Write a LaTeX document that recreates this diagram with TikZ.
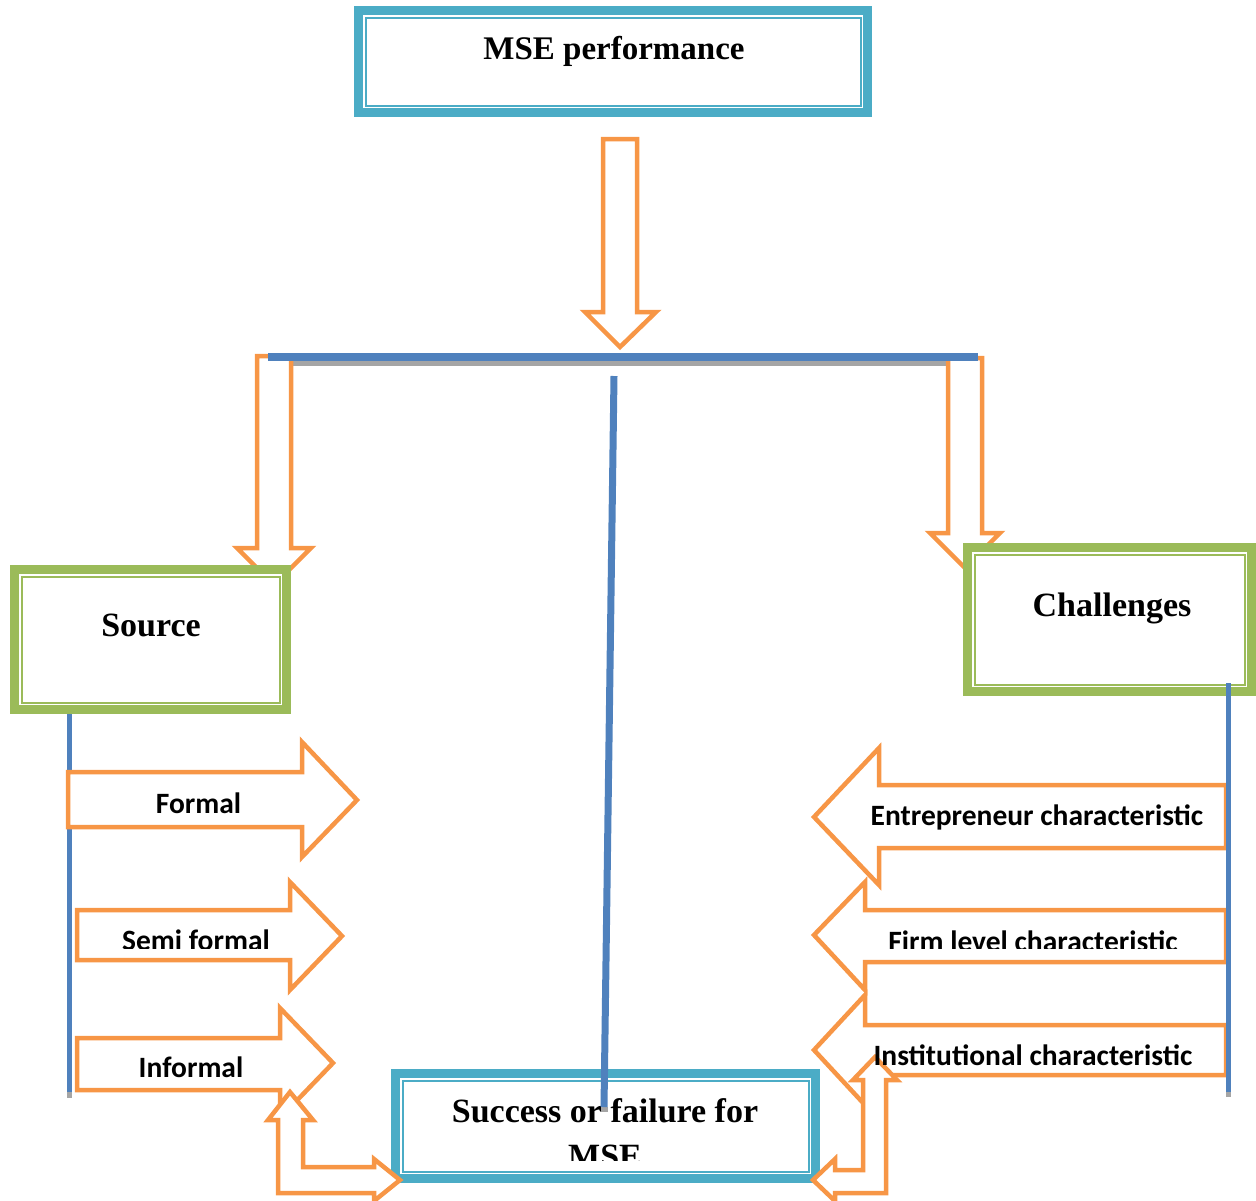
\documentclass[tikz,border=0pt]{standalone}
\usepackage{fontspec}
\setmainfont{Liberation Serif}
\newfontfamily\labfont{Carlito}
\definecolor{mteal}{HTML}{4BACC6}
\definecolor{mgreen}{HTML}{9BBB59}
\definecolor{morange}{HTML}{F79646}
\definecolor{mblue}{HTML}{4F81BD}
\definecolor{mgray}{HTML}{A5A5A5}
\begin{document}
\begin{tikzpicture}[x=1pt,y=-1pt,
  framebox/.style={draw=#1, line width=9pt, fill=white, inner sep=0pt,
    path picture={\draw[#1, line width=2pt]
      ([shift={(7pt,-7pt)}]path picture bounding box.north west) rectangle
      ([shift={(-7pt,7pt)}]path picture bounding box.south east);}},
  boxtext/.style={font=\fontsize{34}{40}\selectfont\bfseries, anchor=base, inner sep=0pt},
  arrowtext/.style={font=\labfont\fontsize{29.5}{34}\selectfont\bfseries, anchor=base, inner sep=0pt},
  blockarrow/.style={draw=morange, line width=4.5pt, fill=white, line join=miter},
  blueline/.style={draw=mblue, line width=#1},
  shadowline/.style={draw=mgray, line width=#1}]
\useasboundingbox (0,0) rectangle (1256,1200);

% top box
\node[framebox=mteal, minimum width=509pt, minimum height=102pt] (top) at (613,61.5) {};
\node[boxtext, font=\fontsize{33}{40}\selectfont\bfseries] (toptxt) at (614,59) {MSE performance};

% top down arrow
\draw[blockarrow] (603,139) -- (637,139) -- (637,312) -- (656,312) -- (620,347) -- (585,312) -- (603,312) -- cycle;

% horizontal bar shadow
\coordinate (barL) at (268,357);
\coordinate (barR) at (978,357);
\draw[shadowline=5pt] ([yshift=-6.5pt]barL) -- ([yshift=-6.5pt]barR);

% left and right down arrows
\draw[blockarrow] (257,356) -- (291,356) -- (291,548) -- (311,548) -- (274,585) -- (237,548) -- (257,548) -- cycle;
\draw[blockarrow] (948,358) -- (982,358) -- (982,533) -- (1000,533) -- (965,568) -- (930,533) -- (948,533) -- cycle;

% blue bar
\draw[blueline=8pt] (barL) -- (barR);

% source and challenges boxes
\node[framebox=mgreen, minimum width=272pt, minimum height=140pt] (src) at (150.5,639.5) {};
\node[boxtext] (srctxt) at (151,636) {Source};
\node[framebox=mgreen, minimum width=284pt, minimum height=144pt] (chal) at (1109.5,619.5) {};
\node[boxtext] (chaltxt) at (1112,616) {Challenges};

% left vertical line
\coordinate (lb) at (69,1092);
\draw[shadowline=5pt] (lb) -- ++(0,6);
\draw[blueline=5pt] (src.south -| lb) -- (lb);

% left arrows
\draw[blockarrow] (68,772) -- (302,772) -- (302,742) -- (357,800) -- (302,857) -- (302,827) -- (68,827) -- cycle;
\draw[blockarrow] (77,910) -- (290,910) -- (290,882) -- (342,936) -- (290,990) -- (290,960) -- (77,960) -- cycle;
\draw[blockarrow] (77,1038) -- (280,1038) -- (280,1008) -- (333,1063) -- (280,1118) -- (280,1090) -- (77,1090) -- cycle;

% right arrows
\draw[blockarrow] (1226,785) -- (879,785) -- (879,748) -- (814,817) -- (879,885) -- (879,848) -- (1226,848) -- cycle;
\draw[blockarrow] (1226,910) -- (865,910) -- (865,882) -- (814,935) -- (865,990) -- (865,962) -- (1226,962) -- cycle;
\draw[blockarrow] (1226,1025) -- (865,1025) -- (865,995) -- (814,1050) -- (865,1105) -- (865,1075) -- (1226,1075) -- cycle;

% right vertical line
\coordinate (rb) at (1228,1092);
\coordinate (rt) at (1228,683);
\draw[shadowline=5pt] (rb) -- ++(0,5);
\draw[blueline=5pt] (rt) -- (rb);

% success box
\node[framebox=mteal, minimum width=420pt, minimum height=105pt] (succ) at (605.5,1126) {};
\node[boxtext] (succtxt) at (605,1122) {Success or failure for};
\begin{scope}
  \clip (396,1074) rectangle (815,1160);
  \node[boxtext] (succtxt2) at (605,1167) {MSE};
\end{scope}

% bent double arrows
\draw[blockarrow] (290,1092) -- (313,1120) -- (303,1120) -- (303,1167) -- (374,1167) -- (374,1159) -- (400,1180) -- (374,1201) -- (374,1193) -- (278,1193) -- (278,1120) -- (268,1120) -- cycle;
\draw[blockarrow] (875,1057) -- (897,1080) -- (886,1080) -- (886,1193) -- (835,1193) -- (835,1201) -- (813,1180) -- (835,1159) -- (835,1170) -- (863,1170) -- (863,1080) -- (853,1080) -- cycle;

% arrow labels
\node[arrowtext] (formal) at (198.5,813) {Formal};
\begin{scope}
  \clip (80,900) rectangle (290,948);
  \node[arrowtext] (semi) at (196,950) {Semi formal};
\end{scope}
\node[arrowtext] (informal) at (191,1077) {Informal};
\node[arrowtext] (entre) at (1037,825) {Entrepreneur characteristic};
\begin{scope}
  \clip (868,900) rectangle (1222,948);
  \node[arrowtext] (firm) at (1033,951) {Firm level characteristic};
\end{scope}
\node[arrowtext] (inst) at (1033,1065) {Institutional characteristic};

% middle line
\coordinate (mtop) at (614,376);
\coordinate (mbot) at (604,1107);
\draw[shadowline=7pt] (mbot) -- ++(0,5);
\draw[blueline=7pt] (mtop) -- (mbot);
\end{tikzpicture}
\end{document}
